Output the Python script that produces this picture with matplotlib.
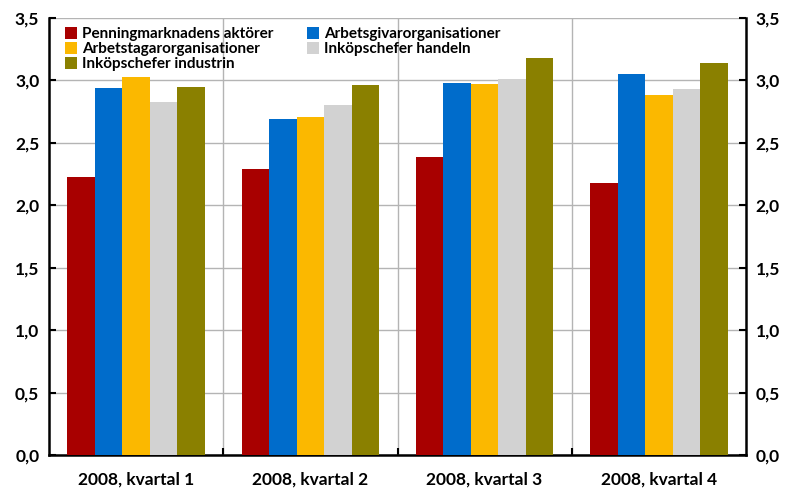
import numpy as np
import matplotlib
matplotlib.use("Agg")
import matplotlib.pyplot as plt
from matplotlib.ticker import FuncFormatter

plt.rcParams['font.family'] = ['Lato', 'DejaVu Sans']
plt.rcParams['font.weight'] = 'bold'

quarters = ['2008, kvartal 1', '2008, kvartal 2', '2008, kvartal 3', '2008, kvartal 4']
series = ['Penningmarknadens aktörer', 'Arbetsgivarorganisationer',
          'Arbetstagarorganisationer', 'Inköpschefer handeln',
          'Inköpschefer industrin']
penning = [2.23, 2.29, 2.39, 2.18]
arbetsgivare = [2.94, 2.69, 2.98, 3.05]
arbetstagare = [3.03, 2.71, 2.97, 2.88]
handeln = [2.83, 2.80, 3.01, 2.93]
industrin = [2.95, 2.96, 3.18, 3.14]
colors = ['#a80000', '#006ccb', '#fbb800', '#d2d2d2', '#8a8000']

values = [penning, arbetsgivare, arbetstagare, handeln, industrin]

fig = plt.figure(figsize=(7.98, 4.88), dpi=100)
ax = fig.add_axes([49/798, 33/488, 697/798, 437/488])

x = np.arange(len(quarters))
w = 0.158
bars = []
for i, (name, vals) in enumerate(zip(series, values)):
    bars.append(ax.bar(x + (i - 2) * w, vals, w, color=colors[i], label=name, zorder=3))

ax.set_xlim(-0.5, 3.5)
ax.set_ylim(0, 3.5)
ax.set_yticks(np.arange(0, 3.51, 0.5))
fmt = FuncFormatter(lambda v, p: ('%.1f' % v).replace('.', ','))
ax.yaxis.set_major_formatter(fmt)
ax.yaxis.grid(True, color='#b4b4b4', lw=1, zorder=0)
for s in [0.5, 1.5, 2.5]:
    ax.axvline(s, color='#b4b4b4', lw=1, zorder=0)

ax.set_xticks(x)
ax.set_xticklabels(quarters)
ax.set_xticks([0.5, 1.5, 2.5], minor=True)
ax.tick_params(axis='x', which='major', length=0, pad=12, labelsize=12.5)
ax.tick_params(axis='x', which='minor', length=5, direction='in', width=1.5)
ax.tick_params(axis='y', direction='in', length=5, width=1.5, labelsize=12.5,
               left=True, right=True, labelleft=True, labelright=True, pad=7)
ax.spines['top'].set_visible(False)
for sp in ['left', 'right', 'bottom']:
    ax.spines[sp].set_linewidth(1.8)

# row-major legend order
order = [0, 2, 4, 1, 3]
ax.legend([bars[i] for i in order], [series[i] for i in order],
          loc='upper left', ncol=2, frameon=False, fontsize=11,
          handlelength=0.8, handleheight=0.8, handletextpad=0.3,
          labelspacing=0.05, columnspacing=2.2, borderaxespad=0.2,
          bbox_to_anchor=(0.01, 1.0))

fig.savefig('out.png', dpi=100)
